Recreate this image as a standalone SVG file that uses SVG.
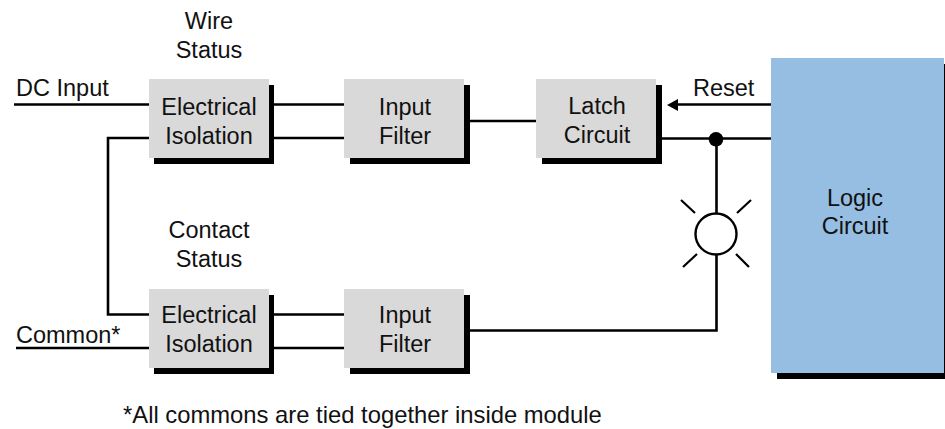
<svg xmlns="http://www.w3.org/2000/svg" width="945" height="429" viewBox="0 0 945 429">
<style>
text{font-family:"Liberation Sans",Arial,sans-serif;font-size:23.5px;fill:#111}
.c{text-anchor:middle}
.sh{fill:#000}
.box{fill:#d9d9d9}
.logic{fill:#95bee2}
.w{fill:none;stroke:#000;stroke-width:2.600}
.r{fill:none;stroke:#000;stroke-width:2.200}
</style>
<rect width="945" height="429" fill="#fff"/>
<g id="connectors">
<path class="w" d="M14 104.500H149M274 104.500H344M274 138H344"/>
<path class="w" d="M149 138H108V314.500H149"/>
<path class="w" d="M16 348H149M274 314.500H344M274 348H344"/>
<path class="w" d="M470 121H536M662 138.500H771"/>
<path class="w" d="M470 330.500H716.500V255M716.500 139V213"/>
<path class="w" d="M771 104.500H676"/>
<polygon points="667,105 678,99 678,111" fill="#000"/>
<circle cx="716" cy="139.300" r="7.300" fill="#000"/>
</g>
<g id="wire-status"><text class="c" x="209" y="29">Wire</text><text class="c" x="209" y="58">Status</text></g>
<g id="contact-status"><text class="c" x="209" y="238">Contact</text><text class="c" x="209" y="267">Status</text></g>
<g id="dc-input"><text x="16" y="96">DC Input</text></g>
<g id="common"><text x="16" y="343">Common*</text></g>
<g id="reset"><text x="693" y="96">Reset</text></g>
<g id="iso1"><rect class="sh" x="154" y="85" width="120" height="79"/><rect class="box" x="149" y="79" width="120" height="79"/><text class="c" x="209" y="115">Electrical</text><text class="c" x="209" y="144">Isolation</text></g>
<g id="filter1"><rect class="sh" x="350" y="85" width="120" height="79"/><rect class="box" x="344" y="79" width="120" height="79"/><text class="c" x="405" y="115">Input</text><text class="c" x="405" y="144">Filter</text></g>
<g id="latch"><rect class="sh" x="542" y="85" width="120" height="79"/><rect class="box" x="536" y="79" width="120" height="79"/><text class="c" x="597" y="114">Latch</text><text class="c" x="597" y="143">Circuit</text></g>
<g id="iso2"><rect class="sh" x="154" y="295" width="120" height="79"/><rect class="box" x="149" y="289" width="120" height="79"/><text class="c" x="209" y="323">Electrical</text><text class="c" x="209" y="352">Isolation</text></g>
<g id="filter2"><rect class="sh" x="350" y="295" width="120" height="79"/><rect class="box" x="344" y="289" width="120" height="79"/><text class="c" x="405" y="323">Input</text><text class="c" x="405" y="352">Filter</text></g>
<g id="logic"><rect class="sh" x="777" y="64" width="168" height="315"/><rect class="logic" x="771" y="58" width="173" height="315"/><text class="c" x="855" y="206">Logic</text><text class="c" x="855" y="234">Circuit</text></g>
<g id="lamp">
<circle cx="716" cy="234" r="20.500" fill="#fff" stroke="#000" stroke-width="2.400"/>
<path class="r" d="M681 200L695 213M751 200L737 213M683 267L697 254M749 267L736 254"/>
</g>
<g id="note"><text x="123" y="423" style="font-size:23.8px">*All commons are tied together inside module</text></g>
</svg>
